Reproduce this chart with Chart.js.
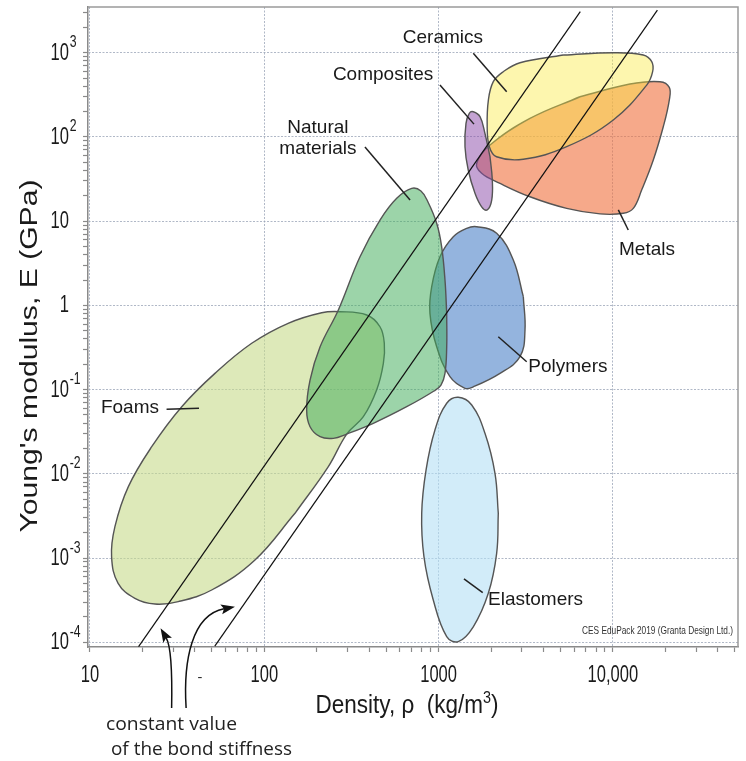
<!DOCTYPE html>
<html><head><meta charset="utf-8">
<script src="https://cdn.jsdelivr.net/npm/chart.js@4.4.1/dist/chart.umd.min.js"></script>
<style>html,body{margin:0;padding:0;background:#fff}canvas{display:block}</style>
</head><body>
<canvas id="c" width="746" height="761"></canvas>
<script>
// ---------- axes ----------
const xTickValues = [10, 100, 1000, 10000];
const xTickLabels = ['10', '100', '1000', '10,000'];
const yTickValues = [1e-4, 1e-3, 1e-2, 1e-1, 1, 10, 100, 1000];
const yTickBase   = ['10', '10', '10', '10', '1', '10', '10', '10'];
const yTickExp    = ['-4', '-3', '-2', '-1', '', '', '2', '3'];
const xRange = [9.74, 52200];
const yRange = [8.8e-5, 3490];

// ---------- material family outlines (density kg/m3, modulus GPa) ----------
const ceramicsRho = [5190, 10050, 14930, 16700, 16900, 15630, 10050, 5430, 3060, 2150, 1955, 1900, 1930, 2060, 2350, 2930];
const ceramicsE   = [939, 1000, 939, 782, 595, 413, 159, 76.6, 54.3, 58.2, 76.6, 132, 274, 453, 595, 761];

const metalsRho = [6470, 12530, 18620, 21060, 21060, 19450, 17050, 14620, 13090, 11470, 8435, 5430, 3342, 2250, 1766, 1654, 1972, 3342];
const metalsE   = [300, 425, 453, 388, 274, 132, 53.2, 23.4, 14.2, 12.4, 12.2, 14.2, 19.5, 28.1, 37, 48.6, 80.2, 166];

const compositesRho = [1972, 2033, 2017, 1901, 1766, 1617, 1479, 1417, 1436, 1500, 1581, 1728, 1845];
const compositesE   = [58.3, 30.8, 17.8, 13.6, 14.8, 21.4, 40.5, 76.6, 145, 191, 199, 174, 110];

const naturalRho = [1113, 1113, 1088, 1032, 941, 656, 422, 297, 249, 209, 183, 175, 183, 209, 266, 354, 461, 575, 701, 792, 869, 975, 1041, 1088];
const naturalE   = [0.805, 0.323, 0.156, 0.1135, 0.0964, 0.0627, 0.0398, 0.0297, 0.0264, 0.0276, 0.0363, 0.0573, 0.130, 0.323, 0.882, 3.78, 10.3, 18.7, 24.5, 22.8, 16.9, 9.43, 4.98, 2.0];

const polymersRho = [3062, 3131, 2931, 2250, 1581, 1417, 1162, 975, 892, 913, 1018, 1214, 1449, 1654, 2153, 2683];
const polymersE   = [1.27, 0.51, 0.246, 0.156, 0.108, 0.1038, 0.1424, 0.323, 0.805, 1.67, 3.78, 6.54, 8.23, 8.6, 7.18, 3.46];

const elastomersRho = [2200, 2153, 1928, 1581, 1297, 1113, 932, 824, 800, 847, 953, 1113, 1297, 1549, 1845, 2106];
const elastomersE   = [0.0034, 0.00114, 3.82e-4, 1.53e-4, 1.02e-4, 1.17e-4, 3.18e-4, 1.04e-3, 0.0034, 0.0111, 0.0332, 0.0689, 0.0811, 0.0657, 0.0303, 0.01015];

const foamsRho = [150, 88.4, 49.9, 32.1, 23.6, 18.1, 14.5, 13.3, 13.9, 16.6, 22.6, 33.6, 52.1, 84.7, 137, 213.5, 272, 387, 461, 488, 482, 441, 370, 297, 233];
const foamsE   = [0.0034, 9.5e-4, 4.18e-4, 3.04e-4, 2.85e-4, 3.33e-4, 5.02e-4, 1.04e-3, 2.36e-3, 7.05e-3, 0.021, 0.0627, 0.156, 0.355, 0.613, 0.819, 0.842, 0.769, 0.558, 0.355, 0.205, 0.099, 0.0477, 0.0297, 0.0122];

// ---------- guide lines (constant bond stiffness) ----------
const guide1Rho = [19, 6500];
const guide1E   = [8.9e-5, 3070];
const guide2Rho = [52, 18000];
const guide2E   = [9.0e-5, 3200];

// ---------- family labels ----------
const labelNames = ['Ceramics', 'Composites', 'Natural\nmaterials', 'Metals', 'Polymers', 'Foams', 'Elastomers'];
const labelRho   = [1059, 480, 203, 15690, 5520, 16.96, 3597];
const labelE     = [1494, 543, 97, 4.55, 0.1856, 0.0605, 3.18e-4];
const leaderFromRho = [1581, 1018, 378, 10740, 2200, 27.5, 1398];
const leaderFromE   = [984, 413, 76, 13.6, 0.425, 0.0584, 5.65e-4];
const leaderToRho   = [2458, 1596, 686, 12250, 3202, 42.2, 1791];
const leaderToE     = [344, 142, 17.8, 7.85, 0.2146, 0.06, 3.88e-4];

// ---------- annotation arrows ----------
const arrowTipRho  = [25.4, 67.9];
const arrowTipE    = [1.47e-4, 2.65e-4];
const arrowTailRho = [29.4, 35.6];

function pts(xs, ys) {
  const p = xs.map((x, i) => ({x: x, y: ys[i]}));
  p.push({x: xs[0], y: ys[0]});
  return p;
}
function shape(label, xs, ys, fill, order) {
  return {
    label: label, data: pts(xs, ys), backgroundColor: fill, borderColor: '#555',
    borderWidth: 1.4, fill: 'shape', tension: 0.4, pointRadius: 0, order: order
  };
}
function guide(label, xs, ys) {
  return {
    label: label, data: xs.map((x, i) => ({x: x, y: ys[i]})), borderColor: '#111',
    borderWidth: 1.2, fill: false, tension: 0, pointRadius: 0, order: 0
  };
}
function buildTicks(majors, range) {
  const t = [];
  majors.forEach(m => { t.push(m); for (let k = 2; k <= 9; k++) t.push(m * k); });
  return t.filter(v => v >= range[0] * 1.02 && v <= range[1] * 0.98).sort((a, b) => a - b);
}
function isMajor(list, v) { return list.some(m => Math.abs(m - v) / m < 1e-6); }

const SANS = '"Liberation Sans", Arial, sans-serif';
const NARROW = 0.72;

function fitText(ctx, text, x, y, font, width, align, color) {
  ctx.save();
  ctx.font = font;
  const w = ctx.measureText(text).width;
  ctx.translate(x, y);
  ctx.scale(width / w, 1);
  ctx.textAlign = align; ctx.textBaseline = 'alphabetic'; ctx.fillStyle = color;
  ctx.fillText(text, 0, 0);
  ctx.restore();
}

const overlay = {
  id: 'overlay',
  beforeDraw(chart) {
    const ctx = chart.ctx;
    ctx.save(); ctx.fillStyle = '#fff'; ctx.fillRect(0, 0, chart.width, chart.height); ctx.restore();
  },
  beforeDatasetsDraw(chart) {
    const {ctx, chartArea: a} = chart;
    ctx.save();
    ctx.strokeStyle = '#9a9a9a'; ctx.lineWidth = 1.5;
    ctx.beginPath(); ctx.moveTo(a.left, a.top); ctx.lineTo(a.right, a.top); ctx.lineTo(a.right, a.bottom); ctx.stroke();
    ctx.restore();
  },
  afterDraw(chart) {
    const {ctx, chartArea: a} = chart;
    const X = v => chart.scales.x.getPixelForValue(v);
    const Y = v => chart.scales.y.getPixelForValue(v);
    ctx.save();
    // tick labels (narrow digits, real superscripts)
    ctx.fillStyle = '#1a1a1a';
    ctx.textBaseline = 'alphabetic';
    xTickValues.forEach((v, i) => {
      ctx.save();
      ctx.translate(X(v), a.bottom + 35);
      ctx.scale(NARROW, 1);
      ctx.font = '23px ' + SANS; ctx.textAlign = 'center';
      ctx.fillText(xTickLabels[i], 0, 0);
      ctx.restore();
    });
    yTickValues.forEach((v, i) => {
      const py = Y(v);
      ctx.save();
      ctx.translate(a.left - 19, py + 7);
      ctx.scale(NARROW, 1);
      ctx.font = '23px ' + SANS; ctx.textAlign = 'right';
      ctx.fillText(yTickBase[i], 0, 0);
      if (yTickExp[i]) {
        ctx.font = '17px ' + SANS; ctx.textAlign = 'left';
        ctx.fillText(yTickExp[i], 1, -12.5);
      }
      ctx.restore();
    });
    // leaders
    ctx.strokeStyle = '#222'; ctx.lineWidth = 1.5;
    labelNames.forEach((n, i) => {
      ctx.beginPath();
      ctx.moveTo(X(leaderFromRho[i]), Y(leaderFromE[i]));
      ctx.lineTo(X(leaderToRho[i]), Y(leaderToE[i]));
      ctx.stroke();
    });
    // labels
    ctx.fillStyle = '#1a1a1a';
    ctx.font = '19px ' + SANS;
    ctx.textAlign = 'center'; ctx.textBaseline = 'middle';
    labelNames.forEach((n, i) => {
      const lines = n.split('\n');
      const cx = X(labelRho[i]), cy = Y(labelE[i]);
      lines.forEach((l, j) => ctx.fillText(l, cx, cy + (j - (lines.length - 1) / 2) * 21.5));
    });
    // copyright
    fitText(ctx, 'CES EduPack 2019 (Granta Design Ltd.)', a.right - 5, a.bottom - 13,
      '11px ' + SANS, 151, 'right', '#333');
    // y title
    ctx.save();
    ctx.translate(37, a.top + 349);
    ctx.rotate(-Math.PI / 2);
    ctx.font = '23px ' + SANS;
    ctx.textBaseline = 'alphabetic'; ctx.textAlign = 'center';
    const yt = "Young's modulus, E (GPa)";
    const yw = ctx.measureText(yt).width;
    ctx.scale(353 / yw, 1);
    ctx.fillStyle = '#1a1a1a';
    ctx.fillText(yt, 0, 0);
    ctx.restore();
    // x title with superscript
    ctx.save();
    const t1 = 'Density, ρ  (kg/m', t2 = '3', t3 = ')';
    ctx.font = '25px ' + SANS;
    const w1 = ctx.measureText(t1).width, w3 = ctx.measureText(t3).width;
    ctx.font = '16px ' + SANS;
    const w2 = ctx.measureText(t2).width;
    const tw = w1 + w2 + w3, s = 183 / tw;
    ctx.translate(a.left + 319 - 183 / 2, a.bottom + 66);
    ctx.scale(s, 1);
    ctx.textAlign = 'left'; ctx.textBaseline = 'alphabetic'; ctx.fillStyle = '#1a1a1a';
    ctx.font = '25px ' + SANS;
    ctx.fillText(t1, 0, 0);
    ctx.font = '16px ' + SANS;
    ctx.fillText(t2, w1, -10);
    ctx.font = '25px ' + SANS;
    ctx.fillText(t3, w1 + w2, 0);
    ctx.restore();
    // annotation text
    fitText(ctx, 'constant value', 106, a.bottom + 83, '19px "Open Sans", sans-serif', 131, 'left', '#222');
    fitText(ctx, 'of the bond stiffness', 111, a.bottom + 108, '19px "Open Sans", sans-serif', 181, 'left', '#222');
    ctx.fillStyle = '#222'; ctx.font = '15px "Open Sans", sans-serif'; ctx.textAlign = 'center'; ctx.textBaseline = 'middle';
    ctx.fillText('-', 200, a.bottom + 31);
    // arrows
    ctx.strokeStyle = '#111'; ctx.fillStyle = '#111'; ctx.lineWidth = 1.5;
    const ctrl = [[[0.8, -42], [-0.7, -62]], [[-3, -48], [6, -93]]];
    arrowTipRho.forEach((r, i) => {
      const tip = {x: X(r), y: Y(arrowTipE[i])};
      const tail = {x: X(arrowTailRho[i]), y: a.bottom + 61};
      const c1 = {x: tail.x + ctrl[i][0][0], y: tail.y + ctrl[i][0][1]};
      const c2 = {x: tail.x + ctrl[i][1][0], y: tail.y + ctrl[i][1][1]};
      const ang = Math.atan2(tip.y - c2.y, tip.x - c2.x);
      const L = 14, H = 5;
      const bx = tip.x - L * 0.8 * Math.cos(ang), by = tip.y - L * 0.8 * Math.sin(ang);
      ctx.beginPath(); ctx.moveTo(tail.x, tail.y); ctx.bezierCurveTo(c1.x, c1.y, c2.x, c2.y, bx, by); ctx.stroke();
      ctx.beginPath();
      ctx.moveTo(tip.x, tip.y);
      ctx.lineTo(tip.x - L * Math.cos(ang) + H * Math.sin(ang), tip.y - L * Math.sin(ang) - H * Math.cos(ang));
      ctx.lineTo(bx, by);
      ctx.lineTo(tip.x - L * Math.cos(ang) - H * Math.sin(ang), tip.y - L * Math.sin(ang) + H * Math.cos(ang));
      ctx.closePath(); ctx.fill();
    });
    ctx.restore();
  }
};

const gridColor = list => c => (c.tick && isMajor(list, c.tick.value)) ? 'rgba(150,160,180,0.75)' : 'rgba(0,0,0,0)';

new Chart(document.getElementById('c'), {
  type: 'line',
  data: {
    datasets: [
      guide('guide 1', guide1Rho, guide1E),
      guide('guide 2', guide2Rho, guide2E),
      shape('Composites', compositesRho, compositesE, 'rgba(137,71,167,0.5)', 1),
      shape('Ceramics', ceramicsRho, ceramicsE, 'rgba(251,233,62,0.42)', 2),
      shape('Metals', metalsRho, metalsE, 'rgba(240,112,60,0.6)', 3),
      shape('Natural materials', naturalRho, naturalE, 'rgba(65,172,90,0.52)', 4),
      shape('Polymers', polymersRho, polymersE, 'rgba(77,130,200,0.6)', 5),
      shape('Foams', foamsRho, foamsE, 'rgba(198,218,138,0.6)', 6),
      shape('Elastomers', elastomersRho, elastomersE, 'rgba(180,223,245,0.6)', 7)
    ]
  },
  options: {
    responsive: false, animation: false, events: [],
    layout: {padding: {left: 0, top: 7, right: 8, bottom: 0}},
    plugins: {legend: {display: false}, tooltip: {enabled: false}},
    scales: {
      x: {
        type: 'logarithmic', min: xRange[0], max: xRange[1],
        afterBuildTicks: s => { s.ticks = buildTicks(xTickValues, xRange).map(v => ({value: v})); },
        afterFit: s => { s.height = 114; },
        ticks: {display: false, autoSkip: false},
        grid: {color: gridColor(xTickValues), tickColor: '#8a8a8a', tickLength: 5, lineWidth: 1, tickWidth: 1.2},
        border: {color: '#8a8a8a', width: 1.5, dash: [2, 1.5]}
      },
      y: {
        type: 'logarithmic', min: yRange[0], max: yRange[1],
        afterBuildTicks: s => { s.ticks = buildTicks(yTickValues, yRange).map(v => ({value: v})); },
        afterFit: s => { s.width = 88; },
        ticks: {display: false, autoSkip: false},
        grid: {color: gridColor(yTickValues), tickColor: '#8a8a8a', tickLength: 5, lineWidth: 1, tickWidth: 1.2},
        border: {color: '#8a8a8a', width: 1.5, dash: [2, 1.5]}
      }
    }
  },
  plugins: [overlay]
});
</script>
</body></html>
